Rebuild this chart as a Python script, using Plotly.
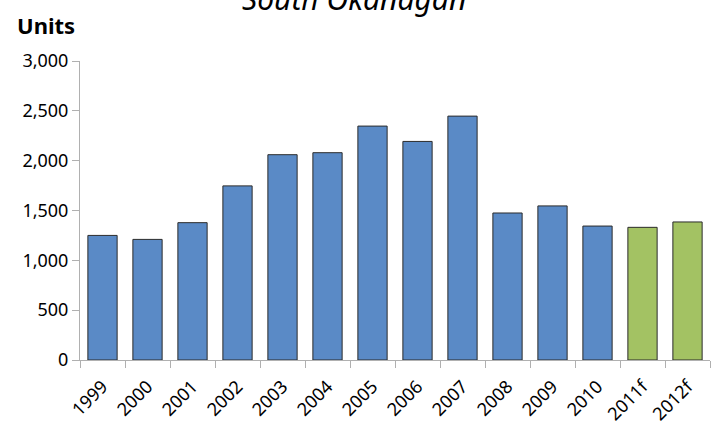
import plotly.graph_objects as go

years = ["1999", "2000", "2001", "2002", "2003", "2004", "2005", "2006",
         "2007", "2008", "2009", "2010", "2011f", "2012f"]
units = [1250, 1210, 1378, 1747, 2060, 2080, 2347, 2193,
         2447, 1475, 1546, 1344, 1331, 1385]
is_forecast = [False] * 12 + [True] * 2

BLUE = "#5A8AC6"
GREEN = "#A3C263"
colors = [GREEN if f else BLUE for f in is_forecast]

FONT = "Noto Sans"

fig = go.Figure(go.Bar(
    x=years, y=units,
    marker=dict(color=colors, line=dict(color="#2b2b2b", width=1)),
    width=0.65,
))

fig.update_layout(
    width=711, height=422,
    margin=dict(l=80, r=1, t=61, b=62),
    paper_bgcolor="white", plot_bgcolor="white",
    showlegend=False,
    font=dict(family=FONT, color="black", size=18),
    annotations=[
        dict(text="<i>South Okanagan</i><sup>1</sup>", xref="paper", yref="paper",
             x=(360 - 80) / 630, y=1.215, xanchor="center", yanchor="middle",
             showarrow=False, font=dict(family=FONT, size=30, color="black")),
        dict(text="<b>Units</b>", xref="paper", yref="paper",
             x=(46 - 80) / 630, y=(360 - 25) / 299, xanchor="center", yanchor="middle",
             showarrow=False, font=dict(family=FONT, size=22, color="black")),
    ],
)

fig.update_xaxes(
    type="category", tickson="boundaries", ticks="outside", ticklen=7,
    tickcolor="#b0b0b0", showline=True, linecolor="#b0b0b0", linewidth=1,
    tickangle=-45, tickfont=dict(size=18), showgrid=False, automargin=False,
    ticklabelstandoff=8,
)
fig.update_yaxes(
    range=[0, 3000], dtick=500, tickformat=",", ticks="outside", ticklen=7,
    tickcolor="#b0b0b0", showline=True, linecolor="#b0b0b0", linewidth=1,
    showgrid=False, zeroline=False, tickfont=dict(size=18), automargin=False,
)

fig.write_html("out.html", config={"displayModeBar": False},
               post_script="document.body.style.margin='0';")
